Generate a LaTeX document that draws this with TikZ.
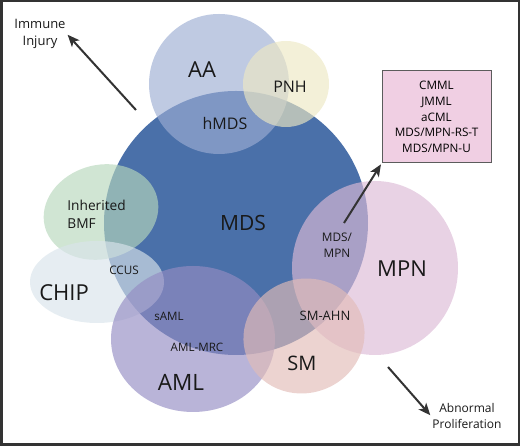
\documentclass[tikz,border=0pt]{standalone}
\usepackage{fontspec}
\setmainfont{Open Sans}
\usetikzlibrary{arrows.meta, positioning}
\definecolor{mdsc}{HTML}{4A70A9}
\definecolor{aac}{HTML}{9CADD3}
\definecolor{pnhc}{HTML}{EDE8C3}
\definecolor{bmfc}{HTML}{B7D7BC}
\definecolor{chipc}{HTML}{D9E4EB}
\definecolor{amlc}{HTML}{948CC3}
\definecolor{mpnc}{HTML}{DCBAD6}
\definecolor{smc}{HTML}{E2BCB7}
\definecolor{boxc}{HTML}{F0CFE3}
\definecolor{inkc}{HTML}{333333}
\newcommand{\fs}[1]{\fontsize{#1}{#1}\selectfont}
\newcommand{\region}[5]{%
  \fill[#3, fill opacity=0.65, rotate around={#5:#2}] #2 ellipse (#4);
  \coordinate (#1) at #2;
}

\begin{document}
\begin{tikzpicture}[x=1pt, y=1pt, line width=0.8pt,
      arr/.style={-{Stealth[length=12pt, width=10pt, inset=3pt]},
                  inkc, line width=2pt, shorten >=1pt},
      lbl/.style={inner sep=1pt, text=black!90}]
    \useasboundingbox (0,0) rectangle (520,446);
    \fill[mdsc] (236,223) circle (132pt);
    \coordinate (mds-c) at (236,223);
    \region{aa-c}{(219,362)}{aac}{70pt and 70pt}{0}
    \region{pnh-c}{(286,362)}{pnhc}{43pt and 43pt}{0}
    \region{bmf-c}{(101,234)}{bmfc}{58pt and 47pt}{15}
    \region{chip-c}{(97,164)}{chipc}{67pt and 41pt}{0}
    \region{aml-c}{(193,107)}{amlc}{82pt and 73pt}{0}
    \region{mpn-c}{(375,178)}{mpnc}{83pt and 87pt}{0}
    \region{sm-c}{(304,110)}{smc}{61pt and 57pt}{20}
    \node[lbl, font=\fs{22}] (aa) at (202,376) {AA};
    \node[lbl, font=\fs{16}] (pnh) at (290,359) {PNH};
    \node[lbl, font=\fs{16}] (hmds) at (225,322) {hMDS};
    \node[lbl, font=\fs{21}] (mds) at (243,223) {MDS};
    \node[lbl, font=\fontsize{13.7}{18}\selectfont, align=left, anchor=west]
      (bmf) at (66,232) {Inherited\\BMF};
    \node[lbl, font=\fs{11.7}] (ccus) at (124,176) {CCUS};
    \node[lbl, font=\fs{22}] (chip) at (64,153) {CHIP};
    \node[lbl, font=\fs{11.6}] (saml) at (169,130) {sAML};
    \node[lbl, font=\fs{11.6}] (amlmrc) at (197,99) {AML-MRC};
    \node[lbl, font=\fs{22.5}] (aml) at (181,64) {AML};
    \node[lbl, font=\fs{20}] (sm) at (302,83) {SM};
    \node[lbl, font=\fs{13}] (smahn) at (325,130) {SM-AHN};
    \node[lbl, font=\fontsize{11.8}{16}\selectfont, align=center]
      (mdsmpn) at (337,201) {MDS/\\MPN};
    \node[lbl, font=\fs{22}] (mpn) at (402,177) {MPN};
    \node[draw=inkc!80, fill=boxc, line width=1pt, minimum width=109pt,
          minimum height=92pt, align=center, font=\fontsize{11.7}{15.8}\selectfont]
      (mpnbox) at (436.5,329) {CMML\\JMML\\aCML\\MDS/MPN-RS-T\\MDS/MPN-U};
    \node[lbl, font=\fontsize{13}{17}\selectfont, align=center]
      (immune) at (40,412) {Immune\\Injury};
    \node[lbl, font=\fontsize{12}{16}\selectfont, align=center]
      (prolif) at (467,30) {Abnormal\\Proliferation};
    \coordinate (immune-tail) at (136,336);
    \coordinate (box-tail) at (344,223);
    \coordinate (prolif-tail) at (388,79);
    \draw[arr] (immune-tail) -- (immune.east);
    \draw[arr] (box-tail) -- (mpnbox.south west);
    \draw[arr] (prolif-tail) -- (prolif.west);
    \draw[inkc, line width=2.5pt] (1.25,1.25) rectangle (518.75,444.75);
  \end{tikzpicture}
\end{document}
